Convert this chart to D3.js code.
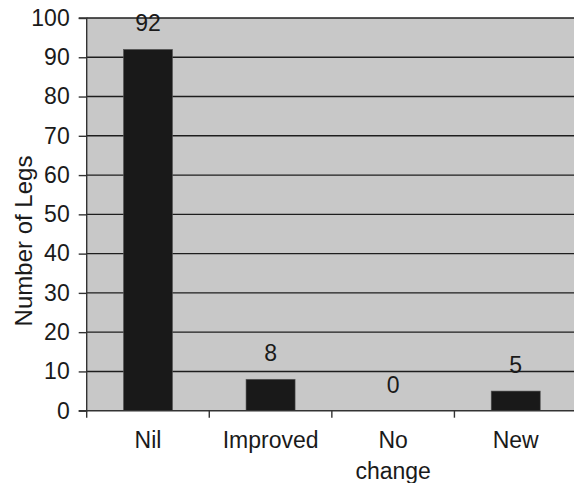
<!DOCTYPE html>
<html>
<head>
<meta charset="utf-8">
<script src="https://cdn.jsdelivr.net/npm/d3@7"></script>
<style>
  html, body { margin: 0; padding: 0; background: #fff; }
  svg { display: block; font-family: "Liberation Sans", Arial, Helvetica, sans-serif; }
</style>
</head>
<body>
<svg id="chart" width="574" height="483"></svg>
<script>
// Outcome categories and leg counts
const categories = ["Nil", "Improved", "No change", "New"];
const categoryLines = [["Nil"], ["Improved"], ["No", "change"], ["New"]];
const legCounts = [92, 8, 0, 5];
const yTicks = [0, 10, 20, 30, 40, 50, 60, 70, 80, 90, 100];
const yTitle = "Number of Legs";

const svg = d3.select("#chart");
const plotLeft = 86.7, plotRight = 577, plotTop = 18, plotBottom = 410.7;
const fontSize = 23;

const y = d3.scaleLinear().domain([0, 100]).range([plotBottom, plotTop]);
const xCat = d3.scaleBand().domain(categories).range([plotLeft, plotRight]).padding(0);
const xBar = d3.scaleBand().domain(categories).range([plotLeft, plotRight])
  .paddingInner(0.6).paddingOuter(0.3);

// Plot background
svg.append("rect")
  .attr("x", plotLeft).attr("y", plotTop)
  .attr("width", plotRight - plotLeft).attr("height", plotBottom - plotTop)
  .attr("fill", "#c8c8c8");

// Horizontal gridlines
svg.append("g").selectAll("line")
  .data(yTicks.filter(d => d > 0))
  .join("line")
  .attr("x1", plotLeft).attr("x2", plotRight)
  .attr("y1", d => y(d)).attr("y2", d => y(d))
  .attr("stroke", "#1e1e1e").attr("stroke-width", 1.4);

// Bars
svg.append("g").selectAll("rect")
  .data(categories)
  .join("rect")
  .attr("x", d => xBar(d))
  .attr("y", (d, i) => y(legCounts[i]))
  .attr("width", xBar.bandwidth())
  .attr("height", (d, i) => y(0) - y(legCounts[i]))
  .attr("fill", "#191919")
  .attr("stroke", "#555").attr("stroke-width", 0.6);

// Value labels
svg.append("g").selectAll("text")
  .data(categories)
  .join("text")
  .attr("x", d => xBar(d) + xBar.bandwidth() / 2)
  .attr("y", (d, i) => y(legCounts[i]) - 18)
  .attr("text-anchor", "middle")
  .attr("font-size", fontSize)
  .attr("fill", "#1a1a1a")
  .text((d, i) => legCounts[i]);

// Y axis
const yAxis = d3.axisLeft(y).tickValues(yTicks).tickSize(8).tickPadding(9);
const gy = svg.append("g").attr("transform", `translate(${plotLeft},0)`).call(yAxis);
gy.select(".domain").attr("stroke", "#333").attr("stroke-width", 1.4)
  .attr("d", `M-8,${plotTop}H0V${plotBottom}H-8`);
gy.selectAll(".tick line").attr("stroke", "#333").attr("stroke-width", 1.4);
gy.selectAll(".tick text").attr("font-size", fontSize).attr("fill", "#1a1a1a")
  .attr("font-family", "'Liberation Sans', Arial, sans-serif");

// X axis line and boundary ticks
svg.append("line")
  .attr("x1", plotLeft).attr("x2", plotRight)
  .attr("y1", plotBottom).attr("y2", plotBottom)
  .attr("stroke", "#333").attr("stroke-width", 1.4);
svg.append("g").selectAll("line")
  .data(categories)
  .join("line")
  .attr("x1", d => xCat(d)).attr("x2", d => xCat(d))
  .attr("y1", plotBottom).attr("y2", plotBottom + 7)
  .attr("stroke", "#333").attr("stroke-width", 1.4);

// Category labels
const cl = svg.append("g").selectAll("text")
  .data(categories)
  .join("text")
  .attr("x", d => xCat(d) + xCat.bandwidth() / 2)
  .attr("y", 448)
  .attr("text-anchor", "middle")
  .attr("font-size", fontSize)
  .attr("fill", "#1a1a1a");
cl.selectAll("tspan")
  .data((d, i) => categoryLines[i])
  .join("tspan")
  .attr("x", function () { return d3.select(this.parentNode).attr("x"); })
  .attr("dy", (d, j) => j === 0 ? 0 : 31)
  .text(d => d);

// Y axis title
svg.append("text")
  .attr("transform", `translate(32,241) rotate(-90)`)
  .attr("text-anchor", "middle")
  .attr("font-size", 24)
  .attr("fill", "#1a1a1a")
  .text(yTitle);
</script>
</body>
</html>
